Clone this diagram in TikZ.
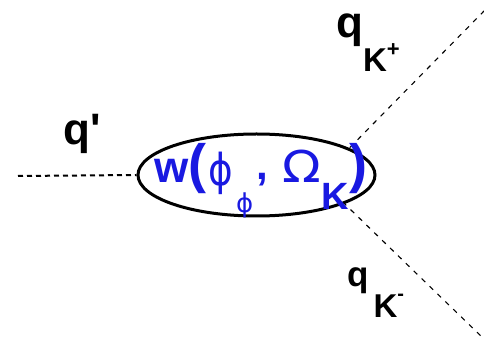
\documentclass[tikz,border=0pt]{standalone}
\usepackage{fontspec}
\newfontfamily\lblfont{Liberation Sans}
\newfontfamily\grkfont{DejaVu Sans}
\usetikzlibrary{shapes.geometric}
\definecolor{ampblue}{RGB}{25,25,225}
\newcommand{\fs}[1]{\fontsize{#1}{#1}\selectfont}

\begin{document}
\begin{tikzpicture}[x=1pt,y=-1pt,
    prop/.style={line width=2pt, dash pattern=on 5pt off 4pt},
    kaon/.style={line width=1.1pt, dash pattern=on 5pt off 6pt},
    blob/.style={ellipse, draw, line width=3pt, fill=white,
                 minimum width=237pt, minimum height=82pt, inner sep=0pt},
    lbl/.style={font=\lblfont\bfseries, inner sep=0pt, anchor=base west}]
    \useasboundingbox (0,0) rectangle (484,352);

    % Kaon legs
    \coordinate (qin) at (18,176);
    \coordinate (vtx) at (319,179);
    \coordinate (kp) at (484,11);
    \coordinate (km) at (484,339);
    \draw[kaon] (vtx) -- (kp);
    \draw[kaon] (vtx) -- (km);

    % Amplitude blob
    \node[blob] (amp) at (256.5,175) {};
    \draw[prop] (qin) -- (amp.west);
    \node[lbl, text=ampblue] (ampl) at (154,183)
        {\fs{44}w\fs{54}(\hspace{2pt}\raisebox{-3pt}{\grkfont\mdseries\fs{44}\scalebox{0.85}[1]{ϕ}}\hspace{3pt}%
         \raisebox{-30pt}{\grkfont\mdseries\fs{26}ϕ}\hspace{3pt}\raisebox{3pt}{\fs{42},}\hspace{15pt}%
         {\grkfont\mdseries\fs{44}\scalebox{1.15}[1]{Ω}}\raisebox{-27pt}{\fs{38}K}\fs{54})};

    % Labels
    \node[lbl, font=\lblfont\bfseries\fs{44}] (qp) at (63,145) {q'};
    \node[lbl, font=\lblfont\bfseries\fs{44}] (qkp) at (336,38)
        {q\raisebox{-34pt}{\fs{33}K\raisebox{15pt}{\fs{22}+}}};
    \node[lbl, font=\lblfont\bfseries\fs{35}] (qkm) at (347,287)
        {q\hspace{5pt}\raisebox{-31pt}{\fs{33}K\raisebox{17pt}{\fs{20}-}}};
\end{tikzpicture}
\end{document}
